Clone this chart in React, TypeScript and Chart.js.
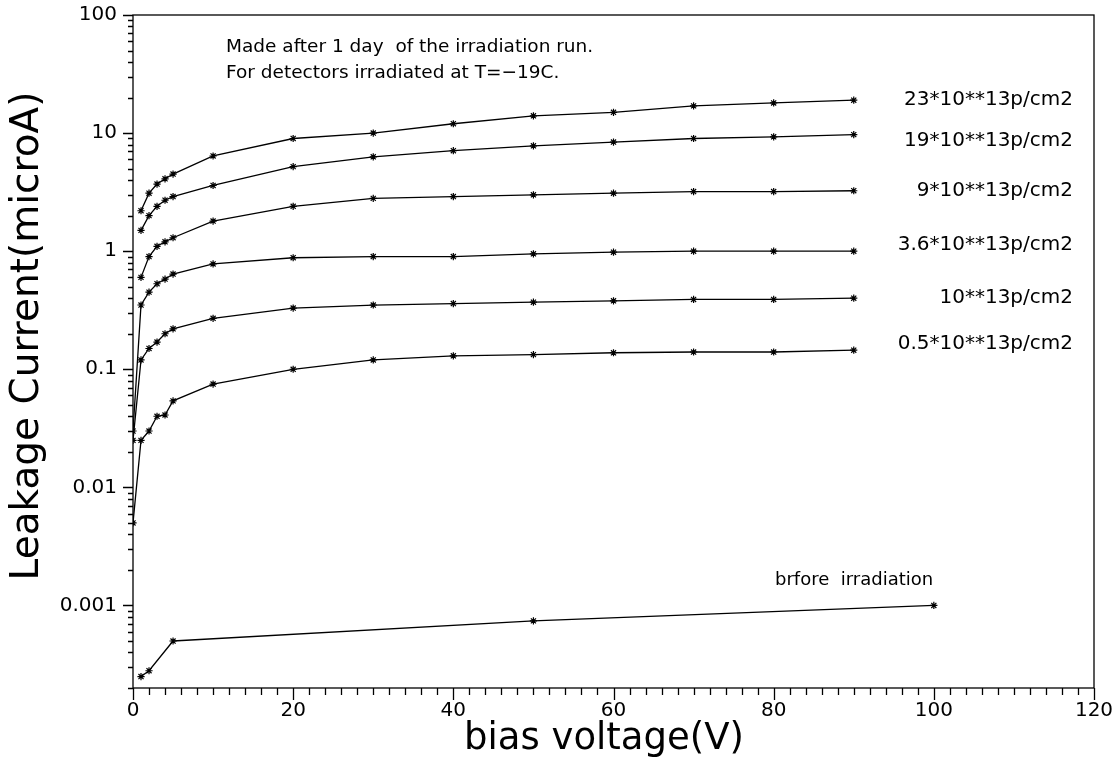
import { useEffect, useRef } from 'react';
import Chart from 'chart.js/auto';

// ---- data ----
const voltsA = [1, 2, 3, 4, 5, 10, 20, 30, 40, 50, 60, 70, 80, 90];
const voltsB = [0, 1, 2, 3, 4, 5, 10, 20, 30, 40, 50, 60, 70, 80, 90];
const voltsBefore = [1, 2, 5, 50, 100];

const cur23 = [2.2, 3.1, 3.7, 4.1, 4.5, 6.4, 9.0, 10.0, 12.0, 14.0, 15.0, 17.0, 18.0, 19.0];
const cur19 = [1.5, 2.0, 2.4, 2.7, 2.9, 3.6, 5.2, 6.3, 7.1, 7.8, 8.4, 9.0, 9.3, 9.7];
const cur9 = [0.6, 0.9, 1.1, 1.2, 1.3, 1.8, 2.4, 2.8, 2.9, 3.0, 3.1, 3.2, 3.2, 3.25];
const cur36 = [0.03, 0.35, 0.45, 0.53, 0.58, 0.64, 0.78, 0.88, 0.9, 0.9, 0.95, 0.98, 1.0, 1.0, 1.0];
const cur1 = [0.025, 0.12, 0.15, 0.17, 0.2, 0.22, 0.27, 0.33, 0.35, 0.36, 0.37, 0.38, 0.39, 0.39, 0.4];
const cur05 = [0.005, 0.025, 0.03, 0.04, 0.041, 0.054, 0.075, 0.1, 0.12, 0.13, 0.133, 0.138, 0.14, 0.14, 0.145];
const curBefore = [0.00025, 0.00028, 0.0005, 0.00074, 0.001];

const seriesNames = [
  '23*10**13p/cm2',
  '19*10**13p/cm2',
  '9*10**13p/cm2',
  '3.6*10**13p/cm2',
  '10**13p/cm2',
  '0.5*10**13p/cm2',
];
const beforeName = 'brfore  irradiation';
const noteLines = ['Made after 1 day  of the irradiation run.', 'For detectors irradiated at T=\u221219C.'];
const xTitle = 'bias voltage(V)';
const yTitle = 'Leakage Current(microA)';
const xTickLabels = ['0', '20', '40', '60', '80', '100', '120'];
const yTickLabels: Record<number, string> = { [-3]: '0.001', [-2]: '0.01', [-1]: '0.1', 0: '1', 1: '10', 2: '100' };

const X_MIN = 0, X_MAX = 120, X_STEP = 20, X_MINOR = 2;
const Y_MIN = 0.0002, Y_MAX = 100;

// ---- styles ----
const FONT = "'DejaVu Sans', sans-serif";
const labelDy = [0, 6, 0, -6, 0, -6];

const toPts = (xs: number[], ys: number[]) => xs.map((x, i) => ({ x, y: ys[i] }));

const lineStyle = {
  showLine: true,
  borderColor: '#000',
  backgroundColor: '#000',
  borderWidth: 1.3,
  pointStyle: 'star' as const,
  pointRadius: 3.6,
  pointBorderWidth: 1.2,
  pointBorderColor: '#000',
  tension: 0,
};

const framePlugin = {
  id: 'frame',
  afterDraw(chart: any) {
    const { ctx, chartArea: a, scales } = chart;
    const x = scales.x, y = scales.y;
    ctx.save();
    ctx.strokeStyle = '#000';
    ctx.fillStyle = '#000';
    ctx.lineWidth = 1.3;
    ctx.strokeRect(a.left, a.top, a.right - a.left, a.bottom - a.top);
    ctx.beginPath();
    for (let v = X_MIN; v <= X_MAX + 1e-9; v += X_MINOR) {
      const px = Math.round(x.getPixelForValue(v)) + 0.5;
      const len = v % X_STEP === 0 ? 12 : 7;
      ctx.moveTo(px, a.bottom);
      ctx.lineTo(px, a.bottom + len);
    }
    for (let e = -4; e <= 2; e++) {
      for (let m = 1; m <= 9; m++) {
        const v = m * Math.pow(10, e);
        if (v < Y_MIN * 0.999 || v > Y_MAX * 1.001) continue;
        const py = Math.round(y.getPixelForValue(v)) + 0.5;
        const len = m === 1 ? 10 : 5;
        ctx.moveTo(a.left - len, py);
        ctx.lineTo(a.left, py);
      }
    }
    ctx.stroke();

    // notes
    ctx.font = `18.5px ${FONT}`;
    ctx.textAlign = 'left';
    ctx.textBaseline = 'alphabetic';
    ctx.fillText(noteLines[0], 226, 52);
    ctx.fillText(noteLines[1], 226, 78);

    // series labels
    ctx.font = `20px ${FONT}`;
    ctx.textAlign = 'right';
    ctx.textBaseline = 'middle';
    for (let i = 0; i < seriesNames.length; i++) {
      const ds = chart.data.datasets[i];
      const last = ds.data[ds.data.length - 1];
      const py = y.getPixelForValue(last.y);
      ctx.fillText(seriesNames[i], 1073, py + labelDy[i]);
    }
    ctx.textAlign = 'left';
    ctx.textBaseline = 'alphabetic';
    ctx.font = `18px ${FONT}`;
    ctx.fillText(beforeName, 775, 585);

    // axis titles
    ctx.textAlign = 'center';
    ctx.textBaseline = 'alphabetic';
    ctx.font = `37px ${FONT}`;
    ctx.fillText(xTitle, 604, 749);
    ctx.save();
    ctx.font = `39px ${FONT}`;
    ctx.translate(38, 336);
    ctx.rotate(-Math.PI / 2);
    ctx.fillText(yTitle, 0, 0);
    ctx.restore();
    ctx.restore();
  },
};

export default function App() {
  const ref = useRef<HTMLCanvasElement>(null);
  useEffect(() => {
    if (!ref.current) return;
    Chart.defaults.font.family = FONT;
    const chart = new Chart(ref.current, {
      type: 'scatter',
      data: {
        datasets: [
          { label: seriesNames[0], data: toPts(voltsA, cur23), ...lineStyle },
          { label: seriesNames[1], data: toPts(voltsA, cur19), ...lineStyle },
          { label: seriesNames[2], data: toPts(voltsA, cur9), ...lineStyle },
          { label: seriesNames[3], data: toPts(voltsB, cur36), ...lineStyle },
          { label: seriesNames[4], data: toPts(voltsB, cur1), ...lineStyle },
          { label: seriesNames[5], data: toPts(voltsB, cur05), ...lineStyle },
          { label: beforeName, data: toPts(voltsBefore, curBefore), ...lineStyle },
        ],
      },
      options: {
        animation: false,
        responsive: true,
        maintainAspectRatio: false,
        layout: { padding: { top: 15, right: 26, left: 0, bottom: 0 } },
        plugins: { legend: { display: false }, tooltip: { enabled: false } },
        scales: {
          x: {
            type: 'linear',
            min: X_MIN,
            max: X_MAX,
            grid: { display: false },
            border: { display: false },
            ticks: {
              stepSize: X_STEP,
              color: '#000',
              font: { size: 20, family: FONT },
              padding: 3,
              maxRotation: 0,
              callback: (v: any) => xTickLabels[Math.round(Number(v) / X_STEP)] ?? '',
            },
            afterFit: (s: any) => {
              s.height = 74;
              s.paddingLeft = 0;
              s.paddingRight = 0;
            },
          },
          y: {
            type: 'logarithmic',
            min: Y_MIN,
            max: Y_MAX,
            grid: { display: false },
            border: { display: false },
            ticks: {
              color: '#000',
              font: { size: 20, family: FONT },
              padding: 8,
              autoSkip: false,
              callback: (v: any) => {
                const l = Math.log10(Number(v));
                const r = Math.round(l);
                return Math.abs(l - r) < 1e-6 && yTickLabels[r] !== undefined ? yTickLabels[r] : '';
              },
            },
            afterFit: (s: any) => {
              s.width = 133;
              s.paddingTop = 0;
              s.paddingBottom = 0;
            },
          },
        },
      },
      plugins: [framePlugin],
    } as any);
    return () => chart.destroy();
  }, []);
  return (
    <div style={{ position: 'fixed', left: 0, top: 0, width: 1120, height: 762, background: '#fff' }}>
      <canvas ref={ref} />
    </div>
  );
}
